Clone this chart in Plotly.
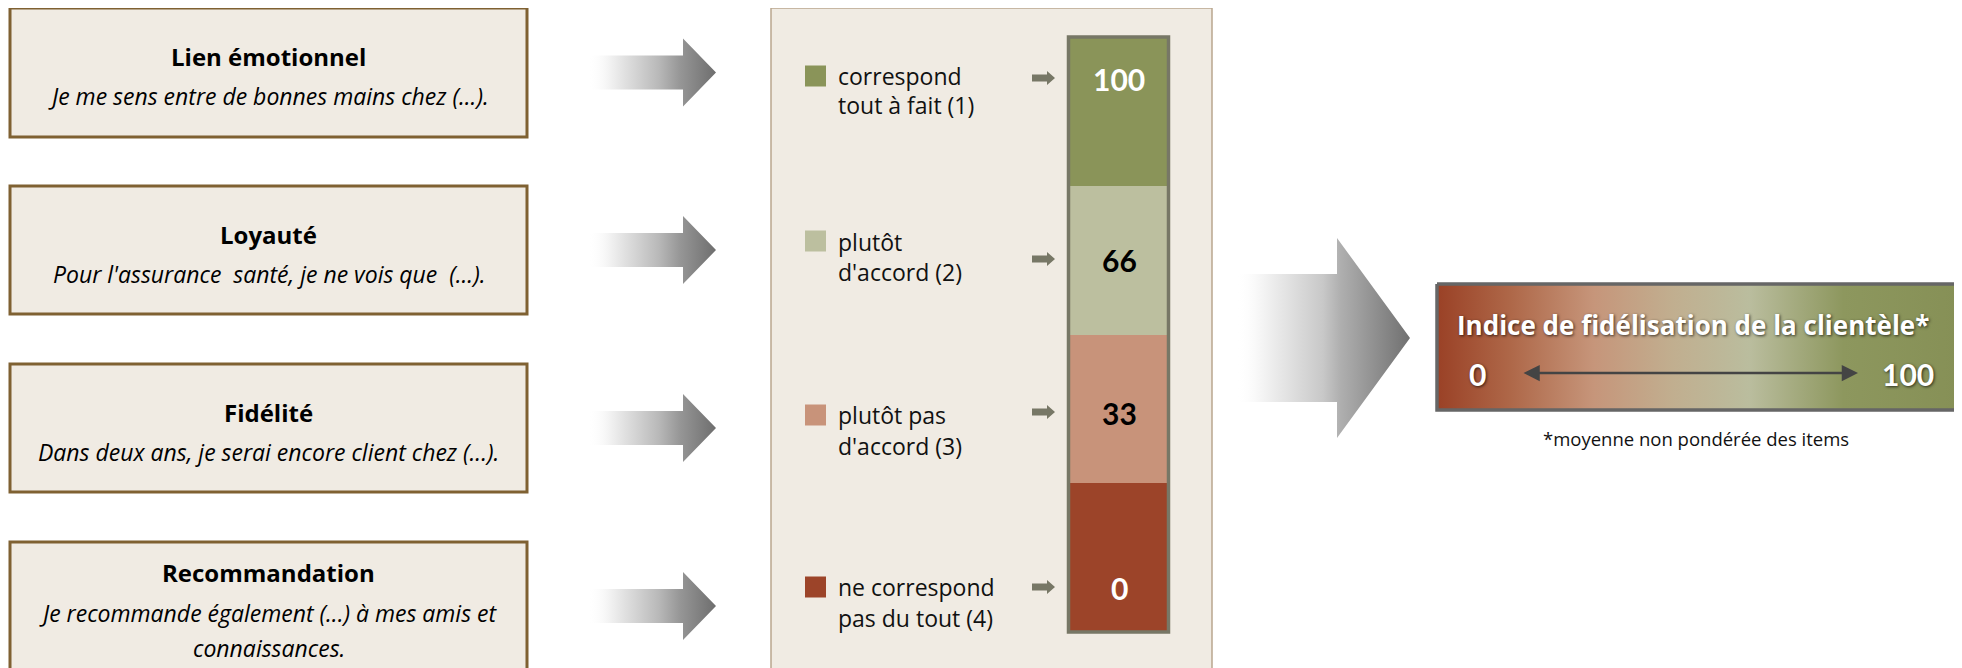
import plotly.graph_objects as go

# ---------------- data ----------------
dimensions = ["Lien émotionnel", "Loyauté", "Fidélité", "Recommandation"]
statements = [
    ["Je me sens entre de bonnes mains chez (...)."],
    ["Pour l'assurance  santé, je ne vois que  (...)."],
    ["Dans deux ans, je serai encore client chez (...)."],
    ["Je recommande également (...) à mes amis et", "connaissances."],
]
response_labels = [
    ["correspond", "tout à fait (1)"],
    ["plutôt", "d'accord (2)"],
    ["plutôt pas", "d'accord (3)"],
    ["ne correspond", "pas du tout (4)"],
]
scores = [100, 66, 33, 0]
score_text_colors = ["white", "black", "black", "white"]
segment_colors = ["#8A9459", "#BCBF9F", "#C8937A", "#9C4429"]
index_title = "Indice de fidélisation de la clientèle*"
index_min, index_max = 0, 100
footnote = "*moyenne non pondérée des items"

FONT = "Open Sans"
FONT_NUM = "Lato"
W, H = 1962, 668
OFF = 8  # page body margin

fig = go.Figure()
shapes = []
ann = []

# ---------------- left boxes ----------------
box_tops = [8, 186, 364, 542]
box_bottoms = [137, 314, 492, 700]
bx0, bx1 = 10, 527
for i, name in enumerate(dimensions):
    t, b = box_tops[i], box_bottoms[i]
    shapes.append(dict(type="rect", x0=bx0, x1=bx1, y0=t, y1=b, xref="x", yref="y",
                       fillcolor="#F0EBE3", line=dict(color="#7F6132", width=3), layer="below"))
    lines = statements[i]
    if len(lines) == 1:
        ty, sy = t + 48, [t + 88]
    else:
        ty, sy = t + 30, [t + 71, t + 106]
    ann.append(dict(x=(bx0 + bx1) / 2, y=ty, text="<b>" + name + "</b>", showarrow=False,
                    font=dict(family=FONT, size=24, color="black"), xanchor="center", yanchor="middle"))
    for ln, yy in zip(lines, sy):
        ann.append(dict(x=(bx0 + bx1) / 2, y=yy, text="<i>" + ln + "</i>", showarrow=False,
                        font=dict(family=FONT, size=23, color="black"), xanchor="center", yanchor="middle"))

# ---------------- gradient arrows ----------------
def add_arrow(x0, xh, xt, yc, hs, hh, scale):
    xs = [x0, xh, xh, xt, xh, xh, x0, x0]
    ys = [yc - hs, yc - hs, yc - hh, yc, yc + hh, yc + hs, yc + hs, yc - hs]
    fig.add_trace(go.Scatter(x=xs, y=ys, mode="lines", fill="toself",
                             line=dict(width=0, color="rgba(0,0,0,0)"),
                             fillgradient=dict(type="horizontal", colorscale=scale),
                             hoverinfo="skip", showlegend=False))

small_scale = [[0, "rgba(255,255,255,0)"], [0.15, "rgba(245,245,245,1)"],
               [0.55, "rgb(185,185,185)"], [0.72, "rgb(150,150,150)"], [1, "rgb(110,110,110)"]]
for i in range(4):
    yc = (box_tops[i] + min(box_bottoms[i], 670)) / 2
    add_arrow(588, 683, 716, yc, 17, 34, small_scale)

big_scale = [[0, "rgba(255,255,255,0)"], [0.12, "rgba(248,248,248,1)"],
             [0.5, "rgb(200,200,200)"], [0.6, "rgb(175,175,175)"], [1, "rgb(112,112,112)"]]
add_arrow(1236, 1337, 1410, 338, 64, 100, big_scale)

# ---------------- middle panel ----------------
shapes.append(dict(type="rect", x0=771, x1=1212, y0=8, y1=700, xref="x", yref="y",
                   fillcolor="#F0EBE3", line=dict(color="#B9A78E", width=1.5), layer="below"))

bar_top, bar_bot = 37, 632
n = len(scores)
seg_h = (bar_bot - bar_top) / n
bases = [bar_top + k * seg_h for k in range(n)]
fig.add_trace(go.Bar(x=[1118.5] * n, y=[seg_h] * n, base=bases, width=100,
                     marker=dict(color=segment_colors, line=dict(width=0)),
                     hoverinfo="skip", showlegend=False))
shapes.append(dict(type="rect", x0=1068.5, x1=1168.5, y0=bar_top, y1=bar_bot, xref="x", yref="y",
                   line=dict(color="#777766", width=3.5), fillcolor="rgba(0,0,0,0)"))

label_y = [[76, 105], [242, 272], [415, 446], [587, 618]]
square_y = [76, 241, 415, 587]
value_y = [79, 260, 413, 588]
for i in range(n):
    sq = square_y[i]
    shapes.append(dict(type="rect", x0=805, x1=826, y0=sq - 10.5, y1=sq + 10.5, xref="x", yref="y",
                       fillcolor=segment_colors[i], line=dict(width=0)))
    for ln, yy in zip(response_labels[i], label_y[i]):
        ann.append(dict(x=836, y=yy, text=ln, showarrow=False, xanchor="left", yanchor="middle",
                        font=dict(family=FONT, size=23, color="#111111")))
    ay = value_y[i] - 1
    path = (f"M 1032 {ay-3.5} L 1047 {ay-3.5} L 1047 {ay-7} L 1055 {ay} L 1047 {ay+7} "
            f"L 1047 {ay+3.5} L 1032 {ay+3.5} Z")
    shapes.append(dict(type="path", path=path, xref="x", yref="y", fillcolor="#777766", line=dict(width=0)))
    ann.append(dict(x=1119, y=value_y[i], text="<b>" + str(scores[i]) + "</b>", showarrow=False,
                    xanchor="center", yanchor="middle",
                    font=dict(family=FONT_NUM, size=30, color=score_text_colors[i])))

# ---------------- index box ----------------
ix0, ix1, iy0, iy1 = 1437, 1958, 284, 410
fig.add_trace(go.Scatter(x=[ix0, ix1, ix1, ix0, ix0], y=[iy0, iy0, iy1, iy1, iy0], mode="lines",
                         fill="toself", line=dict(color="#666666", width=3.5),
                         fillgradient=dict(type="horizontal", colorscale=[
                             [0, "#9A4126"], [0.14, "#AE6748"], [0.3, "#C6957A"], [0.45, "#C1AE8F"],
                             [0.6, "#BABD9E"], [0.78, "#8D975E"], [1, "#869056"]]),
                         hoverinfo="skip", showlegend=False))
shadow = "1px 1px 3px rgba(0,0,0,0.7)"
ann.append(dict(x=1693, y=325, text="<b>" + index_title + "</b>", showarrow=False,
                xanchor="center", yanchor="middle",
                font=dict(family=FONT, size=26, color="white", shadow=shadow)))
ann.append(dict(x=1477, y=374, text="<b>" + str(index_min) + "</b>", showarrow=False,
                xanchor="center", yanchor="middle",
                font=dict(family=FONT_NUM, size=30, color="white", shadow=shadow)))
ann.append(dict(x=1908, y=374, text="<b>" + str(index_max) + "</b>", showarrow=False,
                xanchor="center", yanchor="middle",
                font=dict(family=FONT_NUM, size=30, color="white", shadow=shadow)))
ann.append(dict(x=1858, y=373, ax=1522, ay=373, xref="x", yref="y", axref="x", ayref="y",
                text="", showarrow=True, arrowhead=2, arrowside="end+start", arrowsize=1.3,
                arrowwidth=2.5, arrowcolor="#444444"))
ann.append(dict(x=1696, y=438, text=footnote, showarrow=False, xanchor="center", yanchor="middle",
                font=dict(family=FONT, size=18.5, color="#111111")))

fig.update_layout(
    width=W - OFF, height=H - OFF, margin=dict(l=0, r=0, t=0, b=0),
    paper_bgcolor="white", plot_bgcolor="white",
    xaxis=dict(range=[OFF, W], visible=False, fixedrange=True),
    yaxis=dict(range=[H, OFF], visible=False, fixedrange=True),
    shapes=shapes, annotations=ann, bargap=0, showlegend=False,
)
fig.write_html("out.html")
